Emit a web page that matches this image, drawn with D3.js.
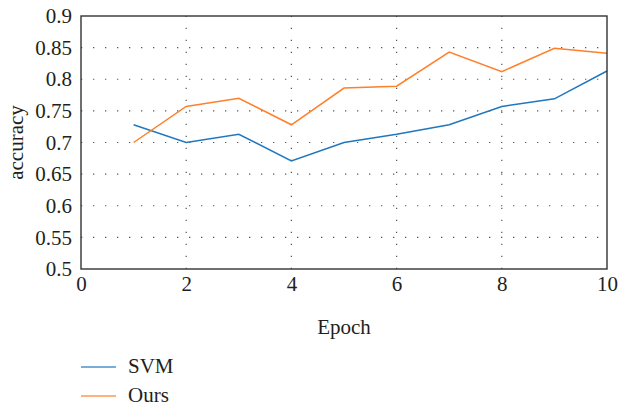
<!DOCTYPE html>
<html><head><meta charset="utf-8">
<script src="https://cdn.jsdelivr.net/npm/d3@7"></script>
<style>body{margin:0;background:#fff}svg{display:block}text{font-family:"Liberation Serif","DejaVu Serif",serif;fill:#231f20}</style>
</head><body><svg id="c" width="618" height="406"></svg>
<script>
const epochs = [1,2,3,4,5,6,7,8,9,10];
const svm  = [0.728,0.700,0.713,0.671,0.700,0.713,0.728,0.757,0.769,0.813];
const ours = [0.700,0.757,0.770,0.728,0.786,0.789,0.843,0.812,0.849,0.841];
const xTicks = [0,2,4,6,8,10];
const yTicks = [0.5,0.55,0.6,0.65,0.7,0.75,0.8,0.85,0.9];
const seriesNames = ["SVM","Ours"];
const colors = ["#1f77c0","#ff7f2a"];

const svg = d3.select("#c");
const L=81,R=607,T=16,B=269;
const FS=21;
const x = d3.scaleLinear().domain([0,10]).range([L,R]);
const y = d3.scaleLinear().domain([0.5,0.9]).range([B,T]);

// grid
const g = svg.append("g");
g.selectAll("line.h").data(yTicks.filter(v=>v>0.5&&v<0.9)).join("line")
  .attr("x1",L).attr("x2",R).attr("y1",d=>y(d)).attr("y2",d=>y(d))
  .attr("stroke","#555").attr("stroke-width",1.2).attr("stroke-dasharray","1.3,10.7");
g.selectAll("line.v").data(xTicks.filter(v=>v>0&&v<10)).join("line")
  .attr("y1",B).attr("y2",T).attr("x1",d=>x(d)).attr("x2",d=>x(d))
  .attr("stroke","#555").attr("stroke-width",1.2).attr("stroke-dasharray","1.3,10.7");

// axes labels
const yAxis = d3.axisLeft(y).tickValues(yTicks).tickSize(0).tickPadding(9).tickFormat(d=>String(+d.toFixed(2)));
const ya = svg.append("g").attr("transform",`translate(${L},0)`).call(yAxis);
ya.select(".domain").remove();
ya.selectAll("text").attr("font-size",FS).attr("fill","#231f20");
const xAxis = d3.axisBottom(x).tickValues(xTicks).tickSize(0).tickPadding(7).tickFormat(d3.format("d"));
const xa = svg.append("g").attr("transform",`translate(0,${B})`).call(xAxis);
xa.select(".domain").remove();
xa.selectAll("text").attr("font-size",FS).attr("fill","#231f20");

// lines
const line = d3.line().x((d,i)=>x(epochs[i])).y(d=>y(d));
[svm,ours].forEach((s,k)=>{
  svg.append("path").datum(s).attr("d",line).attr("fill","none")
    .attr("stroke",colors[k]).attr("stroke-width",1.5);
});

// frame
svg.append("rect").attr("x",L).attr("y",T).attr("width",R-L).attr("height",B-T)
  .attr("fill","none").attr("stroke","#333").attr("stroke-width",1.4);

// titles
svg.append("text").attr("x",(L+R)/2).attr("y",334).attr("text-anchor","middle").attr("font-size",FS).text("Epoch");
svg.append("text").attr("transform",`translate(23,${(T+B)/2}) rotate(-90)`).attr("text-anchor","middle").attr("font-size",FS).text("accuracy");

// legend
const ly=[367,396];
seriesNames.forEach((n,k)=>{
  svg.append("line").attr("x1",81).attr("x2",116).attr("y1",ly[k]).attr("y2",ly[k])
    .attr("stroke",colors[k]).attr("stroke-width",1.5).attr("opacity",0.8);
  svg.append("text").attr("x",128).attr("y",ly[k]+6).attr("font-size",FS).text(n);
});
</script></body></html>
